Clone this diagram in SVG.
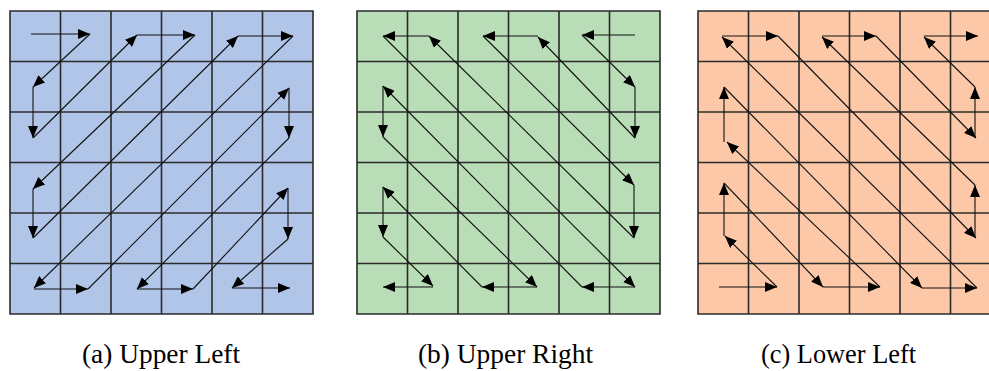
<svg xmlns="http://www.w3.org/2000/svg" width="989" height="371" viewBox="0 0 989 371">
<style>
.grid{fill:none;stroke:#2b2b2b;stroke-width:1.6}
.arr{fill:none;stroke:#111;stroke-width:1.1;marker-end:url(#ah)}
.lbl{font-family:"Liberation Serif","Times New Roman",Tinos,serif;font-size:28px;fill:#000;text-anchor:middle}
</style>
<defs>
<marker id="ah" viewBox="0 0 12 10" refX="12" refY="5" markerWidth="12" markerHeight="10" markerUnits="userSpaceOnUse" orient="auto">
<path d="M0,0 L12,5 L0,10 z" fill="#000"/>
</marker>
<path id="gl" class="grid" d="M0,0H303V303H0Z M50.5,0V303 M101,0V303 M151.5,0V303 M202,0V303 M252.5,0V303 M0,50.5H303 M0,101H303 M0,151.5H303 M0,202H303 M0,252.5H303"/>
</defs>
<rect width="989" height="371" fill="#fff"/>
<g id="grid-a">
<rect x="10" y="11" width="303" height="303" fill="#B1C5E8"/>
<use href="#gl" transform="translate(10,11)"/>
<text class="lbl" x="161" y="363" textLength="158" lengthAdjust="spacingAndGlyphs">(a) Upper Left</text>
</g>
<g id="grid-b">
<rect x="357" y="11" width="303" height="303" fill="#B9DDB6"/>
<use href="#gl" transform="translate(357,11)"/>
<text class="lbl" x="505.5" y="363" textLength="175" lengthAdjust="spacingAndGlyphs">(b) Upper Right</text>
</g>
<g id="grid-c">
<rect x="698" y="11" width="303" height="303" fill="#FDC8A7"/>
<use href="#gl" transform="translate(698,11)"/>
<text class="lbl" x="838.5" y="363" textLength="155" lengthAdjust="spacingAndGlyphs">(c) Lower Left</text>
</g>
<g id="connectors">
<g id="scan-a">
<line class="arr" x1="31" y1="34" x2="90" y2="34"/>
<line class="arr" x1="90" y1="34" x2="33" y2="87"/>
<line class="arr" x1="33" y1="87" x2="33" y2="138"/>
<line class="arr" x1="33" y1="138" x2="137" y2="35"/>
<line class="arr" x1="137" y1="35" x2="195" y2="35"/>
<line class="arr" x1="195" y1="35" x2="33" y2="189"/>
<line class="arr" x1="33" y1="189" x2="33" y2="238"/>
<line class="arr" x1="33" y1="238" x2="238" y2="36"/>
<line class="arr" x1="238" y1="36" x2="293" y2="36"/>
<line class="arr" x1="293" y1="36" x2="34" y2="288"/>
<line class="arr" x1="34" y1="289" x2="88" y2="289"/>
<line class="arr" x1="88" y1="289" x2="289" y2="88"/>
<line class="arr" x1="289" y1="88" x2="289" y2="138"/>
<line class="arr" x1="289" y1="138" x2="137" y2="289"/>
<line class="arr" x1="137" y1="289" x2="193" y2="289"/>
<line class="arr" x1="193" y1="289" x2="288" y2="188"/>
<line class="arr" x1="288" y1="188" x2="288" y2="239"/>
<line class="arr" x1="288" y1="239" x2="232" y2="288"/>
<line class="arr" x1="232" y1="288" x2="290" y2="288"/>
</g>
<g id="scan-b">
<line class="arr" x1="635" y1="35" x2="582" y2="35"/>
<line class="arr" x1="582" y1="35" x2="635" y2="87"/>
<line class="arr" x1="635" y1="87" x2="635" y2="138"/>
<line class="arr" x1="635" y1="138" x2="538" y2="37"/>
<line class="arr" x1="538" y1="36" x2="483" y2="36"/>
<line class="arr" x1="483" y1="36" x2="634" y2="185"/>
<line class="arr" x1="634" y1="185" x2="634" y2="238"/>
<line class="arr" x1="634" y1="238" x2="429" y2="36"/>
<line class="arr" x1="429" y1="36" x2="383" y2="36"/>
<line class="arr" x1="383" y1="36" x2="635" y2="287"/>
<line class="arr" x1="635" y1="287" x2="582" y2="287"/>
<line class="arr" x1="582" y1="287" x2="383" y2="86"/>
<line class="arr" x1="383" y1="86" x2="383" y2="137"/>
<line class="arr" x1="383" y1="137" x2="537" y2="287"/>
<line class="arr" x1="537" y1="287" x2="482" y2="287"/>
<line class="arr" x1="482" y1="287" x2="383" y2="187"/>
<line class="arr" x1="383" y1="187" x2="383" y2="237"/>
<line class="arr" x1="383" y1="237" x2="433" y2="286"/>
<line class="arr" x1="433" y1="287" x2="383" y2="287"/>
</g>
<g id="scan-c">
<line class="arr" x1="719" y1="287" x2="777" y2="287"/>
<line class="arr" x1="777" y1="287" x2="725" y2="236"/>
<line class="arr" x1="724" y1="236" x2="724" y2="183"/>
<line class="arr" x1="724" y1="183" x2="823" y2="287"/>
<line class="arr" x1="823" y1="287" x2="880" y2="287"/>
<line class="arr" x1="880" y1="287" x2="727" y2="142"/>
<line class="arr" x1="724" y1="142" x2="724" y2="87"/>
<line class="arr" x1="724" y1="87" x2="922" y2="288"/>
<line class="arr" x1="922" y1="288" x2="977" y2="288"/>
<line class="arr" x1="977" y1="288" x2="722" y2="37"/>
<line class="arr" x1="722" y1="36" x2="778" y2="36"/>
<line class="arr" x1="778" y1="36" x2="976" y2="238"/>
<line class="arr" x1="975" y1="238" x2="975" y2="185"/>
<line class="arr" x1="975" y1="185" x2="822" y2="37"/>
<line class="arr" x1="822" y1="36" x2="876" y2="36"/>
<line class="arr" x1="876" y1="36" x2="976" y2="138"/>
<line class="arr" x1="975" y1="138" x2="975" y2="87"/>
<line class="arr" x1="975" y1="87" x2="924" y2="37"/>
<line class="arr" x1="924" y1="36" x2="978" y2="36"/>
</g>
</g>
</svg>
